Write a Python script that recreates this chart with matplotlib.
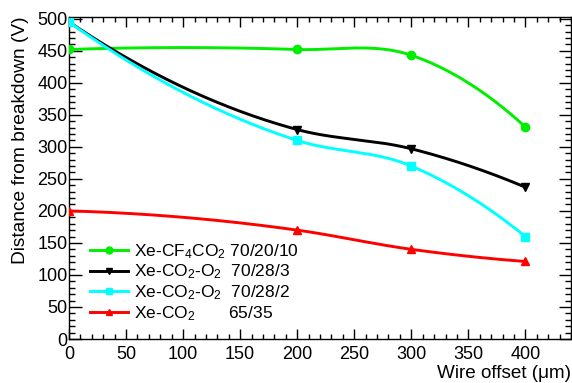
import numpy as np
import matplotlib
matplotlib.use("Agg")
import matplotlib.pyplot as plt
from matplotlib.ticker import MultipleLocator

plt.rcParams['font.family'] = ['Liberation Sans', 'DejaVu Sans']
plt.rcParams['mathtext.fontset'] = 'custom'
plt.rcParams['mathtext.rm'] = 'Liberation Sans'
plt.rcParams['mathtext.it'] = 'Liberation Sans:italic'

offset = [0, 200, 300, 400]
xe_cf4_co2 = [452, 452, 443, 331]
xe_co2_o2_3 = [495, 327, 297, 237]
xe_co2_o2_2 = [495, 310, 270, 160]
xe_co2 = [200, 170, 140, 121]

labels = ["Xe-CF$_4$CO$_2$ 70/20/10",
          "Xe-CO$_2$-O$_2$  70/28/3",
          "Xe-CO$_2$-O$_2$  70/28/2",
          "Xe-CO$_2$       65/35"]
colors = ["#00ee00", "black", "#00ffff", "#ff0000"]
markers = ["o", "v", "s", "^"]

XLIM = (0, 440)
YLIM = (0, 503.5)


def smooth_curve(x, y, npts=150):
    """Piecewise cubic Hermite curve with 3-point (parabolic) slopes."""
    x = np.asarray(x, float)
    y = np.asarray(y, float)
    n = len(x)
    h = np.diff(x)
    s = np.diff(y) / h
    m = np.zeros(n)
    for i in range(1, n - 1):
        m[i] = (h[i] * s[i - 1] + h[i - 1] * s[i]) / (h[i - 1] + h[i])
    m[0] = 2 * s[0] - m[1]
    m[-1] = 2 * s[-1] - m[-2]
    xs_all, ys_all = [], []
    for i in range(n - 1):
        t = np.linspace(0, 1, npts)
        h00 = 2 * t ** 3 - 3 * t ** 2 + 1
        h10 = t ** 3 - 2 * t ** 2 + t
        h01 = -2 * t ** 3 + 3 * t ** 2
        h11 = t ** 3 - t ** 2
        xs_all.append(x[i] + t * h[i])
        ys_all.append(h00 * y[i] + h10 * h[i] * m[i] + h01 * y[i + 1] + h11 * h[i] * m[i + 1])
    return np.concatenate(xs_all), np.concatenate(ys_all)


fig = plt.figure(figsize=(5.72, 3.83), dpi=100)
ax = fig.add_axes([69 / 572, 1 - 339 / 383, (571 - 69) / 572, (339 - 16.5) / 383])

series = [xe_cf4_co2, xe_co2_o2_3, xe_co2_o2_2, xe_co2]
for ys, lab, c, m in zip(series, labels, colors, markers):
    cx, cy = smooth_curve(offset, ys)
    ax.plot(cx, cy, color=c, lw=2.1, zorder=2)
    ax.plot(offset, ys, ls='none', marker=m, color=c, ms=6, zorder=3)
    ax.plot([], [], color=c, lw=2.1, marker=m, ms=5, label=lab)

ax.set_xlim(*XLIM)
ax.set_ylim(*YLIM)
ax.xaxis.set_major_locator(MultipleLocator(50))
ax.xaxis.set_minor_locator(MultipleLocator(10))
ax.yaxis.set_major_locator(MultipleLocator(50))
ax.yaxis.set_minor_locator(MultipleLocator(10))
ax.set_xticks([0, 50, 100, 150, 200, 250, 300, 350, 400])

ax.tick_params(axis='both', which='both', direction='in', top=True, right=True,
               labelsize=13, width=1)
ax.tick_params(axis='x', which='major', length=7, pad=5)
ax.tick_params(axis='x', which='minor', length=3.5)
ax.tick_params(axis='y', which='major', length=9, pad=1)
ax.tick_params(axis='y', which='minor', length=4.5)
for s in ax.spines.values():
    s.set_linewidth(1)

ax.set_ylabel("Distance from breakdown (V)", fontsize=13.8, loc='top')
ax.yaxis.set_label_coords(-0.08, 1.0)
ax.set_xlabel("Wire offset (\u03bcm)", fontsize=13.6, loc='right')
ax.xaxis.set_label_coords(1.0, -0.08)

ax.legend(loc='upper left', bbox_to_anchor=(21 / 502, (339 - 242) / 322.5),
          frameon=False, fontsize=12.5, handlelength=2.2, handletextpad=0.35,
          labelspacing=0.12, borderaxespad=0, borderpad=0)

fig.savefig("out.png", dpi=100)
